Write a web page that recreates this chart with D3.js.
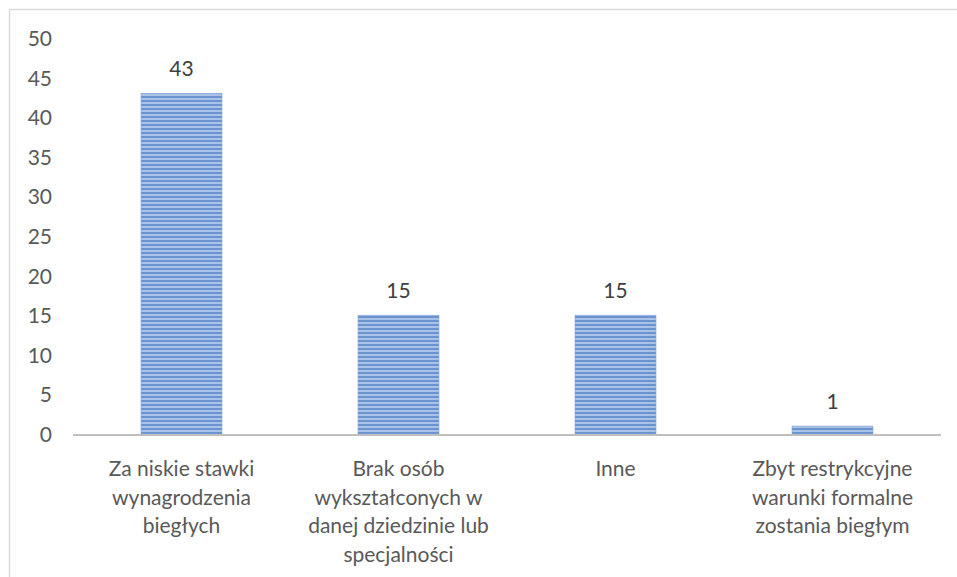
<!DOCTYPE html>
<html><head><meta charset="utf-8">
<script src="https://cdn.jsdelivr.net/npm/d3@7"></script>
<style>body{margin:0;background:#fff}svg{display:block}</style>
</head><body><svg id="c" width="957" height="577"></svg>
<script>
const categories = [
  ["Za niskie stawki","wynagrodzenia","biegłych"],
  ["Brak osób","wykształconych w","danej dziedzinie lub","specjalności"],
  ["Inne"],
  ["Zbyt restrykcyjne","warunki formalne","zostania biegłym"]
];
const values = [43, 15, 15, 1];
const yTicks = [0,5,10,15,20,25,30,35,40,45,50];

const svg = d3.select("#c");
const font = "Lato, 'Open Sans', sans-serif";
const txt = "#595959";
const fs = 21;
const m = {l:73, r:16, t:38, b:143};
const W = 957, H = 577;

// frame
svg.append("path").attr("d", `M9.5,${H} V9.5 H${W}`).attr("fill","none").attr("stroke","#d9d9d9").attr("stroke-width",1.5);

const defs = svg.append("defs");
const pat = defs.append("pattern").attr("id","stripes").attr("patternUnits","userSpaceOnUse")
  .attr("width",8).attr("height",4);
pat.append("rect").attr("width",8).attr("height",4).attr("fill","#a9c3e8");
pat.append("rect").attr("y",0).attr("width",8).attr("height",2).attr("fill","#6a93cf");

const x = d3.scaleBand().domain(d3.range(values.length)).range([m.l, W - m.r]).paddingInner(0.627).paddingOuter(0.3135);
const y = d3.scaleLinear().domain([0,50]).range([H - m.b, m.t]);

// y axis labels
const ya = svg.append("g").attr("transform",`translate(${m.l - 21},0)`)
  .call(d3.axisLeft(y).tickValues(yTicks).tickSize(0).tickPadding(0));
ya.select(".domain").remove();
ya.selectAll("text").attr("font-family",font).attr("font-size",fs).attr("fill",txt).attr("text-anchor","end").attr("dy","0.36em");

// bars
svg.append("g").selectAll("rect").data(values).join("rect")
  .attr("x",(d,i)=>x(i)).attr("width",x.bandwidth())
  .attr("y",d=>y(d)).attr("height",d=>y(0)-y(d))
  .attr("fill","url(#stripes)").attr("stroke","#7da0d4").attr("stroke-width",0.6);

// baseline
svg.append("line").attr("x1",m.l).attr("x2",W - m.r).attr("y1",y(0)+1).attr("y2",y(0)+1)
  .attr("stroke","#bfbfbf").attr("stroke-width",2);

// value labels
svg.append("g").selectAll("text").data(values).join("text")
  .attr("x",(d,i)=>x(i)+x.bandwidth()/2).attr("y",d=>y(d)-17)
  .attr("text-anchor","middle").attr("font-family",font).attr("font-size",fs).attr("fill","#404040")
  .text(d=>d);

// category labels
const cg = svg.append("g").selectAll("text").data(categories).join("text")
  .attr("text-anchor","middle").attr("font-family",font).attr("font-size",fs).attr("fill",txt);
cg.each(function(lines,i){
  d3.select(this).selectAll("tspan").data(lines).join("tspan")
    .attr("x", x(i)+x.bandwidth()/2).attr("y",(d,j)=>476 + j*28.5).text(d=>d);
});
</script></body></html>
